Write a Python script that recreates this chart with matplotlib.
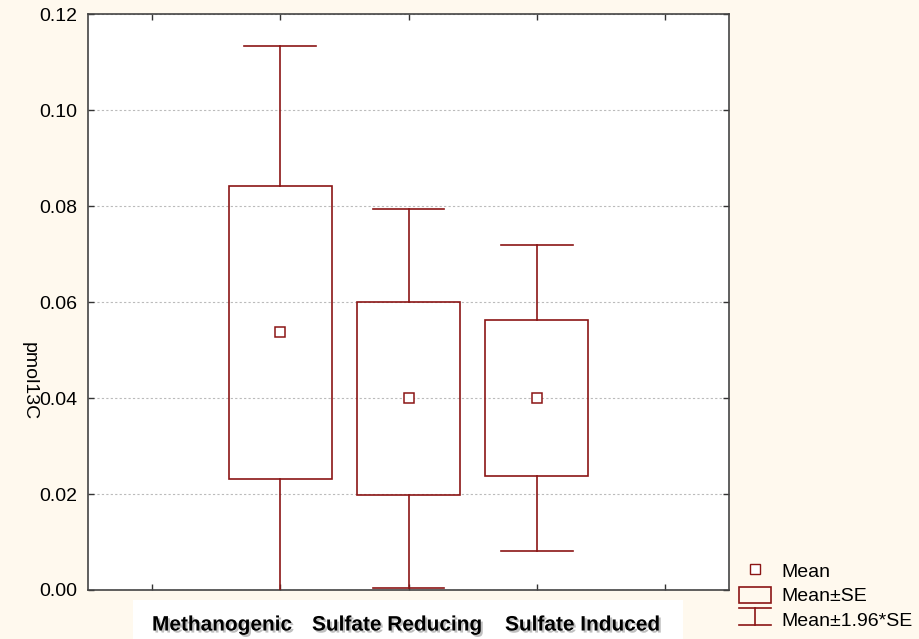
import matplotlib
matplotlib.use("Agg")
import matplotlib.pyplot as plt
import matplotlib.patches as mpatches
import matplotlib.patheffects as pe
from matplotlib.lines import Line2D
from matplotlib.legend_handler import HandlerBase

plt.rcParams['font.family'] = ['Liberation Sans', 'DejaVu Sans']

# data
groups = ["Methanogenic", "Sulfate Reducing", "Sulfate Induced"]
means = [0.0537, 0.0400, 0.0400]
se_low = [0.0232, 0.0198, 0.0238]
se_high = [0.0842, 0.0601, 0.0562]
ci_low = [-0.0060, 0.0005, 0.0082]
ci_high = [0.1134, 0.0794, 0.0718]

red = "#8B1515"
bg = "#FFF9EE"


class WhiskerHandler(HandlerBase):
    # draws the I-shaped whisker symbol in the legend
    def create_artists(self, legend, orig, xd, yd, w, h, fontsize, trans):
        cx = xd + w / 2
        y0, y1 = yd - h * 0.05, yd + h * 1.05
        top = Line2D([xd, xd + w], [y1, y1], color=red, lw=1.2, transform=trans)
        bot = Line2D([xd, xd + w], [y0, y0], color=red, lw=1.2, transform=trans)
        mid = Line2D([cx, cx], [y0, y1], color=red, lw=1.2, transform=trans)
        return [top, bot, mid]


fig = plt.figure(figsize=(9.2, 6.39), dpi=100, facecolor=bg)
ax = fig.add_axes([0.0957, 0.0767, 0.6967, 0.9013])
ax.set_facecolor("white")

pos = [1, 2, 3]
box_w = 0.8
cap_w = 0.56
for x, m, lo, hi, wl, wh in zip(pos, means, se_low, se_high, ci_low, ci_high):
    ax.add_patch(mpatches.Rectangle((x - box_w / 2, lo), box_w, hi - lo,
                                    fill=False, edgecolor=red, lw=1.2, zorder=3))
    ax.plot([x, x], [hi, wh], color=red, lw=1.2, zorder=3)
    ax.plot([x, x], [wl, lo], color=red, lw=1.2, zorder=3)
    ax.plot([x - cap_w / 2, x + cap_w / 2], [wh, wh], color=red, lw=1.2, zorder=3)
    ax.plot([x - cap_w / 2, x + cap_w / 2], [wl, wl], color=red, lw=1.2, zorder=3)
    ax.plot([x], [m], marker='s', ms=7, mfc='white', mec=red, mew=1.1, zorder=4)

ax.set_xlim(-0.5, 4.5)
ax.set_ylim(0, 0.12)
ax.set_xticks([0, 1, 2, 3, 4])
ax.set_xticklabels([])
ax.set_yticks([0, 0.02, 0.04, 0.06, 0.08, 0.10, 0.12])
ax.set_yticklabels(["0.00", "0.02", "0.04", "0.06", "0.08", "0.10", "0.12"], fontsize=14)
ax.tick_params(direction='in', top=True, right=True, length=4, width=1, color='#333333', pad=8)
ax.grid(axis='y', linestyle=(0, (2, 2)), color='#BBBBBB', lw=0.8)
for s in ax.spines.values():
    s.set_color('#444444')
    s.set_linewidth(1.2)

fig.text(29 / 920, 1 - 381 / 639, "pmol13C", rotation=270, fontsize=14,
         ha='center', va='center')

# white strip holding the group names
fig.add_artist(mpatches.Rectangle((133 / 920, 0), 550 / 920, 39 / 639,
                                  transform=fig.transFigure, facecolor='white',
                                  edgecolor='none'))
label_x = [152 / 920, 312 / 920, 505 / 920]
for lx, g in zip(label_x, groups):
    fig.text(lx, 1 - 625 / 639, g, fontsize=15, fontweight='bold', ha='left', va='center',
             path_effects=[pe.withSimplePatchShadow(offset=(1.5, -1.5), alpha=0.25)])

h_mean = Line2D([], [], marker='s', ms=7, mfc='white', mec=red, mew=1.0, ls='none')
h_se = mpatches.Rectangle((0, 0), 1, 1, fill=False, edgecolor=red, lw=1.2)
h_ci = object()
leg = fig.legend([h_mean, h_se, h_ci], ["Mean", "Mean±SE", "Mean±1.96*SE"],
                 handler_map={object: WhiskerHandler()},
                 loc='lower left', bbox_to_anchor=(739 / 920, 9 / 639), frameon=False,
                 borderpad=0, borderaxespad=0, fontsize=14, handlelength=1.65,
                 handleheight=0.9, handletextpad=0.55, labelspacing=0.3)

fig.savefig("out.png", dpi=100, facecolor=bg)
